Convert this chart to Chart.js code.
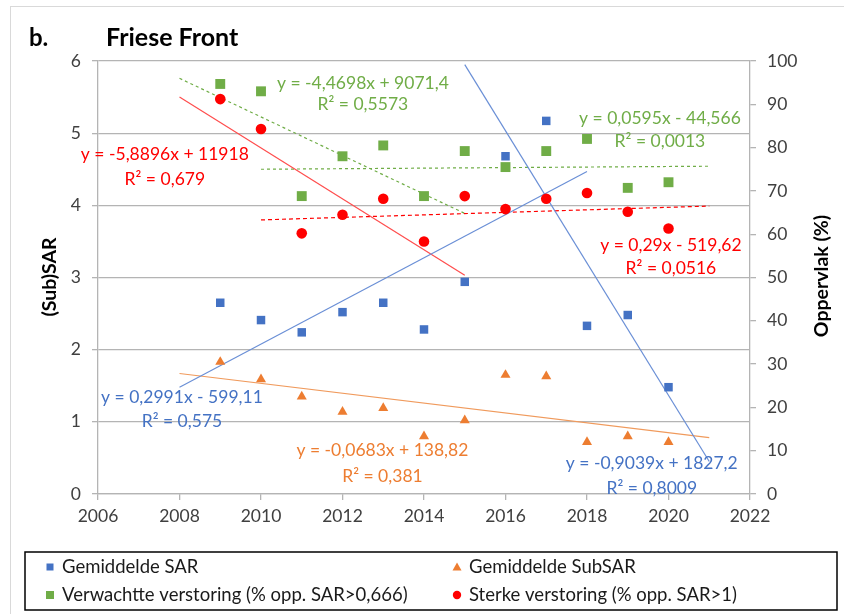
<!doctype html>
<html>
<head>
  <meta charset="utf-8">
  <title>Friese Front</title>
  <script src="https://cdn.jsdelivr.net/npm/chart.js"></script>
  <style>
    html, body { margin: 0; padding: 0; background: #fff; }
  </style>
</head>
<body>
  <canvas id="chart" width="844" height="614"></canvas>
  <script>
    // data
    const years = [2009, 2010, 2011, 2012, 2013, 2014, 2015, 2016, 2017, 2018, 2019, 2020];
    const meanSAR = [2.65, 2.41, 2.24, 2.52, 2.65, 2.28, 2.94, 4.68, 5.17, 2.33, 2.48, 1.48];
    const meanSubSAR = [1.83, 1.59, 1.35, 1.14, 1.19, 0.80, 1.02, 1.65, 1.63, 0.72, 0.80, 0.72];
    const expectedPct = [94.7, 93.0, 68.8, 78.0, 80.5, 68.8, 79.2, 75.5, 79.2, 82.0, 70.7, 72.0];
    const strongPct = [91.2, 84.3, 60.2, 64.5, 68.2, 58.3, 68.8, 65.8, 68.2, 69.5, 65.2, 61.3];

    // trendline end points (year, value) as drawn
    const trendSAR1 = [[2008, 1.48], [2018, 4.47]];
    const trendSAR2 = [[2015, 5.95], [2021, 0.45]];
    const trendSubSAR = [[2008, 1.67], [2021, 0.78]];
    const trendStrong1 = [[2008, 91.7], [2015, 50.5]];
    const trendStrong2 = [[2010, 63.3], [2021, 66.5]];
    const trendExpected1 = [[2008, 96.0], [2015, 64.8]];
    const trendExpected2 = [[2010, 75.0], [2021, 75.7]];

    const xTicks = [2006, 2008, 2010, 2012, 2014, 2016, 2018, 2020, 2022];
    const legendLabels = ['Gemiddelde SAR', 'Gemiddelde SubSAR',
      'Verwachtte verstoring (% opp. SAR>0,666)', 'Sterke verstoring (% opp. SAR>1)'];
    const equations = [
      ['y = -4,4698x + 9071,4', 'R² = 0,5573'],
      ['y = 0,0595x - 44,566', 'R² = 0,0013'],
      ['y = -5,8896x + 11918', 'R² = 0,679'],
      ['y = 0,29x - 519,62', 'R² = 0,0516'],
      ['y = 0,2991x - 599,11', 'R² = 0,575'],
      ['y = -0,0683x + 138,82', 'R² = 0,381'],
      ['y = -0,9039x + 1827,2', 'R² = 0,8009']
    ];

    const BLUE = '#4472c4', ORANGE = '#ed7d31', GREEN = '#70ad47', RED = '#ff0000';
    const FONT = 'Lato, "Open Sans", sans-serif';
    const GRID = '#b4b4b4';

    const pts = (xs, ys) => xs.map((x, i) => ({ x: x, y: ys[i] }));
    const seg = arr => arr.map(p => ({ x: p[0], y: p[1] }));

    function trend(data, color, axis, dash) {
      return {
        data: seg(data), yAxisID: axis, showLine: true, borderColor: color,
        borderWidth: 1.2, borderDash: dash || [], pointRadius: 0, fill: false, order: 1
      };
    }

    const extras = {
      id: 'extras',
      beforeDraw(chart) {
        const ctx = chart.ctx;
        ctx.save();
        ctx.fillStyle = '#fff';
        ctx.fillRect(0, 0, chart.width, chart.height);
        ctx.strokeStyle = '#d9d9d9';
        ctx.lineWidth = 1;
        ctx.strokeRect(10.5, 6.5, 860, 640);
        ctx.restore();
      },
      afterDraw(chart) {
        const ctx = chart.ctx;
        const sx = chart.scales.x, sy = chart.scales.y;
        ctx.save();
        ctx.textBaseline = 'middle';
        // title
        ctx.fillStyle = '#000';
        ctx.font = 'bold 24px ' + FONT;
        ctx.textAlign = 'left';
        ctx.fillText('b.', 29, 38);
        ctx.font = 'bold 25px ' + FONT;
        ctx.fillText('Friese Front', 106, 38);

        // axis titles
        ctx.font = 'bold 19.5px ' + FONT;
        ctx.textAlign = 'center';
        ctx.save();
        ctx.translate(50, 277);
        ctx.rotate(-Math.PI / 2);
        ctx.fillText('(Sub)SAR', 0, 0);
        ctx.restore();
        ctx.save();
        ctx.translate(822, 276);
        ctx.rotate(-Math.PI / 2);
        ctx.fillText('Oppervlak (%)', 0, 0);
        ctx.restore();

        // trendline equations: [year, left-axis value] of eq and R² line
        const place = [
          [2012.50, 5.69, 5.40, GREEN],
          [2019.79, 5.21, 4.88, GREEN],
          [2007.64, 4.71, 4.36, RED],
          [2020.06, 3.45, 3.13, RED],
          [2008.06, 1.34, 1.00, BLUE],
          [2012.98, 0.60, 0.24, ORANGE],
          [2019.59, 0.42, 0.08, BLUE]
        ];
        ctx.font = '17.5px ' + FONT;
        place.forEach((p, i) => {
          ctx.fillStyle = p[3];
          const px = sx.getPixelForValue(p[0]);
          ctx.fillText(equations[i][0], px, sy.getPixelForValue(p[1]));
          ctx.fillText(equations[i][1], px, sy.getPixelForValue(p[2]));
        });

        // legend
        ctx.strokeStyle = '#000';
        ctx.lineWidth = 1.5;
        ctx.strokeRect(25, 552, 812, 58);
        ctx.font = '18.5px ' + FONT;
        ctx.textAlign = 'left';
        const cols = [50, 457], rows = [567, 595];
        legendLabels.forEach((t, i) => {
          const cx = cols[i % 2], cy = rows[Math.floor(i / 2)];
          ctx.fillStyle = '#1a1a1a';
          ctx.fillText(t, cx + 12, cy);
          if (i === 0) { ctx.fillStyle = BLUE; ctx.fillRect(cx - 3.5, cy - 3.5, 7, 7); }
          if (i === 2) { ctx.fillStyle = GREEN; ctx.fillRect(cx - 4, cy - 4, 8, 8); }
          if (i === 1) {
            ctx.fillStyle = ORANGE; ctx.beginPath();
            ctx.moveTo(cx, cy - 4.5); ctx.lineTo(cx + 4.5, cy + 3.5); ctx.lineTo(cx - 4.5, cy + 3.5);
            ctx.closePath(); ctx.fill();
          }
          if (i === 3) { ctx.fillStyle = RED; ctx.beginPath(); ctx.arc(cx, cy, 4.2, 0, Math.PI * 2); ctx.fill(); }
        });
        ctx.restore();
      }
    };

    new Chart(document.getElementById('chart'), {
      type: 'scatter',
      data: {
        datasets: [
          { data: pts(years, meanSAR), yAxisID: 'y', pointStyle: 'rect', pointRadius: 6,
            backgroundColor: BLUE, borderColor: BLUE, borderWidth: 0, order: 0 },
          { data: pts(years, meanSubSAR), yAxisID: 'y', pointStyle: 'triangle', pointRadius: 5.8,
            backgroundColor: ORANGE, borderColor: ORANGE, borderWidth: 0, order: 0 },
          { data: pts(years, expectedPct), yAxisID: 'y2', pointStyle: 'rect', pointRadius: 7,
            backgroundColor: GREEN, borderColor: GREEN, borderWidth: 0, order: 0 },
          { data: pts(years, strongPct), yAxisID: 'y2', pointStyle: 'circle', pointRadius: 5.3,
            backgroundColor: RED, borderColor: RED, borderWidth: 0, order: 0 },
          trend(trendSAR1, '#6a8fd6', 'y'),
          trend(trendSAR2, '#6a8fd6', 'y'),
          trend(trendSubSAR, '#f09a5c', 'y'),
          trend(trendStrong1, '#ff4d4d', 'y2'),
          trend(trendStrong2, RED, 'y2', [4, 3]),
          trend(trendExpected1, GREEN, 'y2', [3, 3]),
          trend(trendExpected2, GREEN, 'y2', [3, 3])
        ]
      },
      options: {
        responsive: false,
        animation: false,
        layout: { padding: { left: 0, right: 0, top: 61, bottom: 80 } },
        plugins: { legend: { display: false }, tooltip: { enabled: false } },
        scales: {
          x: {
            type: 'linear', min: 2006, max: 2022,
            afterBuildTicks: s => { s.ticks = xTicks.map(v => ({ value: v })); },
            afterFit: s => { s.height = 40; },
            grid: { drawOnChartArea: false, drawTicks: true, tickLength: 6, color: GRID, lineWidth: 1.3 },
            border: { display: true, color: GRID, width: 1.3 },
            ticks: { padding: 6, color: '#404040', font: { family: FONT, size: 17.5 }, callback: v => String(v) }
          },
          y: {
            position: 'left', min: 0, max: 6,
            afterFit: s => { s.width = 98; },
            grid: { color: GRID, lineWidth: 1.3, tickLength: 6 },
            border: { display: true, color: GRID, width: 1.3 },
            ticks: { stepSize: 1, padding: 11, color: '#404040', font: { family: FONT, size: 17.5 } }
          },
          y2: {
            position: 'right', min: 0, max: 100,
            afterFit: s => { s.width = 94; },
            grid: { drawOnChartArea: false, color: GRID, lineWidth: 1.3, tickLength: 6 },
            border: { display: true, color: GRID, width: 1.3 },
            ticks: { stepSize: 10, padding: 11, color: '#404040', font: { family: FONT, size: 17.5 } }
          }
        }
      },
      plugins: [extras]
    });
  </script>
</body>
</html>
